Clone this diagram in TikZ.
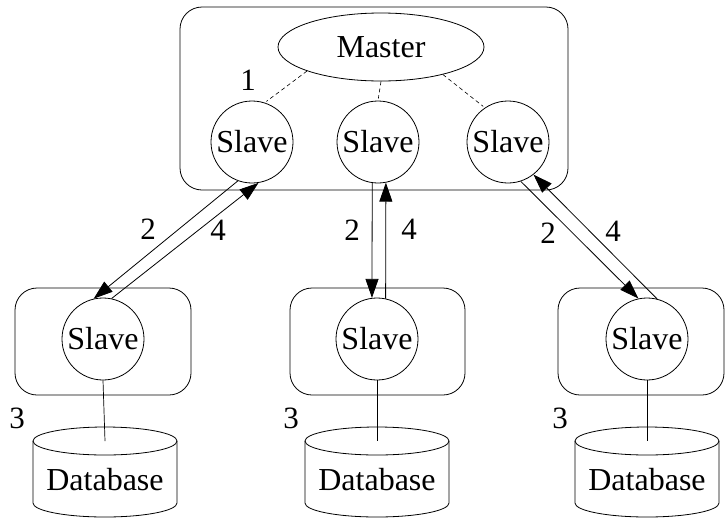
\documentclass[tikz,border=0pt]{standalone}
\usepackage{fontspec}
\setmainfont{Liberation Serif}
\usetikzlibrary{arrows.meta,shapes.geometric}
\begin{document}
\begin{tikzpicture}[x=1pt,y=1pt,
  every node/.style={font=\fontsize{32}{36}\selectfont},
  group/.style={draw, rounded corners=22pt, line width=0.8pt},
  slave/.style={draw, circle, minimum size=82pt, inner sep=0pt, line width=0.8pt},
  master/.style={draw, ellipse, minimum width=206pt, minimum height=68pt, inner sep=0pt, line width=0.8pt},
  num/.style={font=\fontsize{31}{34}\selectfont, inner sep=0pt},
  msg/.style={-{Triangle[length=19pt,width=13pt]}, line width=0.8pt},
  link/.style={line width=0.7pt},
  sync/.style={dash pattern=on 4pt off 3pt, line width=0.6pt, shorten >=2pt},
  cyl/.style={line width=0.8pt}]

\useasboundingbox (0,0) rectangle (725,-517);

% master cluster
\draw[group] (180,-7) rectangle (568,-190);
\node[master] (m) at (381,-47) {Master};
\node[slave] (s1) at (252,-142) {Slave};
\node[slave] (s2) at (378,-142) {Slave};
\node[slave] (s3) at (508,-142) {Slave};
\node[num] (n1) at (248,-80) {1};

\draw[sync] (m.198) -- (s1.72);
\draw[sync] (m.south) -- (s2.north);
\draw[sync] (m.336) -- (s3.124);

% remote sites
\draw[group] (15,-288) rectangle (191,-395);
\draw[group] (290,-288) rectangle (465,-395);
\draw[group] (558,-288) rectangle (724,-395);
\node[slave] (bs1) at (103,-339) {Slave};
\node[slave] (bs2) at (377,-339) {Slave};
\node[slave] (bs3) at (647,-339) {Slave};

% databases
\foreach \c/\i in {105/1,377/2,647/3}{
  \draw[cyl] (\c-72,-441) -- (\c-72,-503)
     arc[start angle=180,end angle=360,x radius=72,y radius=14] -- (\c+72,-441);
  \draw[cyl] (\c,-441) ellipse[x radius=72,y radius=14];
  \coordinate (dbt\i) at (\c,-441);
  \node (db\i) at (\c,-480) {Database};
}
\draw[link] (bs1.south) -- (dbt1);
\draw[link] (bs2.south) -- (dbt2);
\draw[link] (bs3.south) -- (dbt3);

\node[num] (t1) at (17,-418) {3};
\node[num] (t2) at (291,-418) {3};
\node[num] (t3) at (560,-418) {3};

% request / response traffic
\draw[msg] (s1.250) -- (bs1.103);
\draw[msg] (bs1.78) -- (s1.279);
\draw[msg] (s2.262) -- (bs2.97);
\draw[msg] (bs2.78) -- (s2.281);
\draw[msg] (s3.288) -- (bs3.102);
\draw[msg] (bs3.76) -- (s3.308);

\node[num] (a1) at (148,-229) {2};
\node[num] (b1) at (218,-230) {4};
\node[num] (a2) at (352,-230) {2};
\node[num] (b2) at (409,-229) {4};
\node[num] (a3) at (548,-233) {2};
\node[num] (b3) at (613,-231) {4};
\end{tikzpicture}
\end{document}
